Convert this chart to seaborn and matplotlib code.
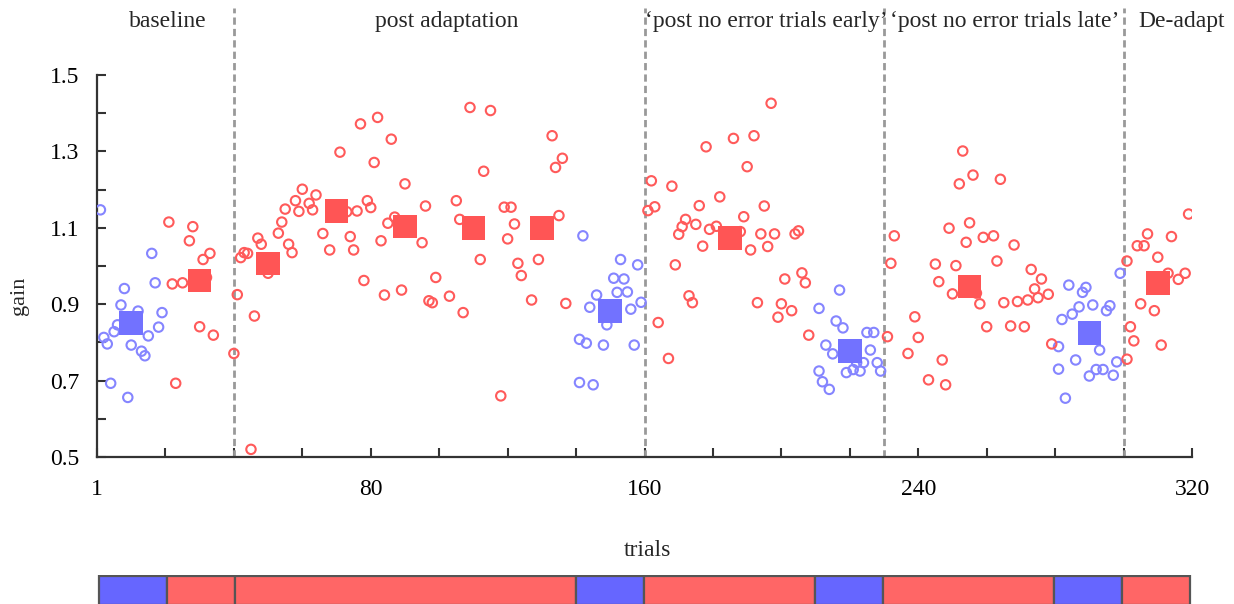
import numpy as np
import pandas as pd
import matplotlib
matplotlib.use("Agg")
import matplotlib.pyplot as plt
import seaborn as sns

# ---------------- data ----------------
blue_trials = [1, 2, 3, 4, 5, 6, 7, 8, 9, 10, 11, 12, 13, 14, 15, 16, 17, 18, 19,
               141, 141, 142, 143, 144, 145, 146, 148, 149, 151, 152, 153, 154, 155, 156, 157, 158, 159,
               211, 211, 212, 213, 214, 215, 216, 217, 218, 219, 221, 222, 223, 224, 225, 226, 227, 228, 229,
               281, 281, 282, 283, 284, 285, 286, 287, 288, 289, 290, 291, 292, 293, 294, 295, 296, 297, 298, 299]
blue_gain = [1.147, 0.813, 0.796, 0.693, 0.828, 0.846, 0.898, 0.941, 0.656, 0.793, 0.860, 0.882, 0.777,
             0.765, 0.817, 1.033, 0.956, 0.840, 0.878,
             0.808, 0.695, 1.079, 0.798, 0.892, 0.689, 0.924, 0.793, 0.846, 0.968, 0.931, 1.017, 0.966,
             0.932, 0.887, 0.793, 1.003, 0.905,
             0.889, 0.725, 0.697, 0.793, 0.677, 0.770, 0.856, 0.937, 0.838, 0.721, 0.729, 0.747, 0.725,
             0.747, 0.826, 0.780, 0.826, 0.747, 0.725,
             0.730, 0.789, 0.860, 0.654, 0.950, 0.874, 0.754, 0.893, 0.931, 0.944, 0.712, 0.898, 0.729,
             0.780, 0.729, 0.883, 0.896, 0.714, 0.749, 0.981]

red_trials = [21, 22, 23, 25, 27, 28, 30, 31, 32, 33, 34, 40,
              41, 42, 43, 44, 45, 46, 47, 48, 50, 53, 54, 55, 56, 57, 58, 59, 60, 62, 63, 64, 66,
              68, 71, 73, 74, 75, 76, 77, 78, 79, 80, 81, 82, 83, 84, 85, 86, 87, 89, 90,
              95, 96, 97, 98, 99, 103, 105, 106, 107, 109, 112, 113, 115, 118, 119, 120, 121, 122,
              123, 124, 127, 129, 133, 134, 135, 136, 137,
              161, 162, 163, 164, 167, 168, 169, 170, 171, 172, 173, 174, 175, 176, 177, 178, 179,
              181, 182, 186, 188, 189, 190, 191, 192, 193, 194, 195, 196, 197, 198, 199, 200, 201,
              203, 204, 205, 206, 207, 208,
              231, 232, 233, 237, 239, 240, 243, 245, 246, 247, 248, 249, 250, 251, 252, 253, 254,
              255, 256, 257, 258, 259, 260, 262, 263, 264, 265, 267, 268, 269, 271, 272, 273, 274,
              275, 276, 278, 279,
              301, 301, 302, 303, 304, 305, 306, 307, 309, 310, 311, 313, 314, 316, 318, 319]
red_gain = [1.115, 0.953, 0.693, 0.956, 1.066, 1.103, 0.841, 1.017, 0.970, 1.033, 0.819, 0.771,
            0.925, 1.022, 1.035, 1.033, 0.520, 0.869, 1.073, 1.057, 0.981, 1.086, 1.115, 1.149, 1.057,
            1.035, 1.171, 1.143, 1.201, 1.164, 1.147, 1.186, 1.085,
            1.042, 1.298, 1.142, 1.077, 1.042, 1.144, 1.372, 0.962, 1.171, 1.153, 1.271, 1.389, 1.066,
            0.924, 1.112, 1.332, 1.128, 0.937, 1.215,
            1.061, 1.157, 0.909, 0.904, 0.970, 0.921, 1.171, 1.122, 0.878, 1.415, 1.017, 1.248, 1.407,
            0.660, 1.154, 1.071, 1.154, 1.110, 1.007, 0.975, 0.911, 1.017, 1.341, 1.258, 1.132, 1.282,
            0.902,
            1.145, 1.223, 1.155, 0.852, 0.758, 1.209, 1.003, 1.083, 1.103, 1.122, 0.922, 0.904, 1.109,
            1.158, 1.052, 1.312, 1.096, 1.104, 1.181, 1.334, 1.090, 1.129, 1.260, 1.042, 1.341, 0.904,
            1.084, 1.157, 1.051, 1.426, 1.084, 0.866, 0.901, 0.966, 0.883, 1.084, 1.092, 0.982, 0.956,
            0.819,
            0.815, 1.007, 1.079, 0.771, 0.867, 0.813, 0.702, 1.005, 0.959, 0.754, 0.689, 1.099, 0.927,
            1.001, 1.215, 1.301, 1.062, 1.113, 1.238, 0.929, 0.901, 1.075, 0.841, 1.079, 1.013, 1.227,
            0.904, 0.843, 1.055, 0.907, 0.841, 0.911, 0.991, 0.940, 0.917, 0.966, 0.926, 0.796,
            1.013, 0.756, 0.841, 0.804, 1.053, 0.901, 1.053, 1.084, 0.883, 1.023, 0.793, 0.981, 1.077,
            0.965, 0.981, 1.136]

mean_trials = [10, 30, 50, 70, 90, 110, 130, 150, 185, 220, 255, 290, 310]
mean_gain = [0.851, 0.962, 1.007, 1.144, 1.103, 1.099, 1.099, 0.882, 1.074, 0.778, 0.946, 0.824, 0.956]
mean_group = ["blue", "red", "red", "red", "red", "red", "red", "blue", "red", "blue", "red", "blue", "red"]

block_start = [0, 20, 40, 140, 160, 210, 230, 280, 300]
block_end = [20, 40, 140, 160, 210, 230, 280, 300, 320]
block_group = ["blue", "red", "red", "blue", "red", "blue", "red", "blue", "red"]

phase_bounds = [40, 160, 230, 300]
phase_labels = ["baseline", "post adaptation", "\u2018post no error trials early\u2019",
                "\u2018post no error trials late\u2019", "De-adapt"]
phase_centers = [20.8, 102.3, 195.6, 265.2, 317.0]

x_ticks = list(range(0, 321, 20))
x_ticklabels = {0: "1", 80: "80", 160: "160", 240: "240", 320: "320"}
y_ticks = [0.5, 0.6, 0.7, 0.8, 0.9, 1.0, 1.1, 1.2, 1.3, 1.4, 1.5]
y_labelled = [0.5, 0.7, 0.9, 1.1, 1.3, 1.5]

# ---------------- style ----------------
sns.set_style("white")
plt.rcParams["font.family"] = ["Liberation Serif", "DejaVu Serif"]

pt_colors = {"blue": "#8585ff", "red": "#ff5a5a"}
sq_colors = {"blue": "#7272ff", "red": "#ff5555"}
bar_colors = {"blue": "#6666ff", "red": "#ff6666"}
axis_col = "#333333"

W, H = 1234, 604
fig = plt.figure(figsize=(W / 100, H / 100), dpi=100)

ax_left, ax_right = 97, 1192
ax_top, ax_bottom = 8, 457
ax = fig.add_axes([ax_left / W, 1 - ax_bottom / H, (ax_right - ax_left) / W, (ax_bottom - ax_top) / H])

ymax = 1.5 + (75 - ax_top) / 382.0

# phase dashed lines
for b in phase_bounds:
    ax.axvline(b, color="#999999", lw=2, dashes=(2.6, 1.5), zorder=1)

# scatter points
blue_df = pd.DataFrame({"trial": blue_trials, "gain": blue_gain})
red_df = pd.DataFrame({"trial": red_trials, "gain": red_gain})
for df, key in [(blue_df, "blue"), (red_df, "red")]:
    sns.scatterplot(data=df, x="trial", y="gain", ax=ax, marker="o", s=46,
                    color=pt_colors[key], linewidth=1.5, zorder=3, legend=False)
    coll = ax.collections[-1]
    coll.set_facecolor("none")
    coll.set_edgecolor(pt_colors[key])

# block means
mean_df = pd.DataFrame({"trial": mean_trials, "gain": mean_gain, "group": mean_group})
sns.scatterplot(data=mean_df, x="trial", y="gain", hue="group", palette=sq_colors,
                marker="s", s=290, linewidth=0, ax=ax, zorder=4, legend=False)

ax.set_xlim(0, 320)
ax.set_ylim(0.5, ymax)
ax.set_xticks(x_ticks)
ax.set_xticklabels([x_ticklabels.get(t, "") for t in x_ticks])
ax.set_yticks(y_ticks)
ax.set_yticklabels([("%.1f" % v) if any(abs(v - l) < 1e-9 for l in y_labelled) else "" for v in y_ticks])

for s in ["top", "right"]:
    ax.spines[s].set_visible(False)
ax.spines["left"].set_bounds(0.5, 1.5)
ax.spines["bottom"].set_bounds(0, 320)
for s in ["left", "bottom"]:
    ax.spines[s].set_color(axis_col)
    ax.spines[s].set_linewidth(1.6)
ax.tick_params(axis="both", which="major", bottom=True, left=True, top=False, right=False,
               direction="in", length=6.5, width=1.5, color=axis_col,
               labelsize=17, labelcolor="black")
ax.tick_params(axis="y", pad=13)
ax.tick_params(axis="x", pad=16)

ax.set_xlabel("")
ax.set_ylabel("gain", fontsize=16)
ax.yaxis.set_label_coords(-0.062, 0.36)

for lab, cx in zip(phase_labels, phase_centers):
    ax.text(cx, 1.639, lab, ha="center", va="center", fontsize=17, clip_on=False)

fig.text(647 / W, 1 - 550 / H, "trials", ha="center", va="center", fontsize=17)

# condition bar
bar_top = 575
ax2 = fig.add_axes([ax_left / W, 0, (ax_right - ax_left) / W, (H - bar_top) / H])
ax2.barh(y=0, width=np.array(block_end) - np.array(block_start), left=block_start, height=1.0,
         color=[bar_colors[g] for g in block_group], edgecolor="#555555", linewidth=1.6, align="center")
ax2.set_xlim(-0.6, 320.6)
ax2.set_ylim(-0.45, 0.52)
ax2.axis("off")

fig.savefig("out.png", dpi=100)
